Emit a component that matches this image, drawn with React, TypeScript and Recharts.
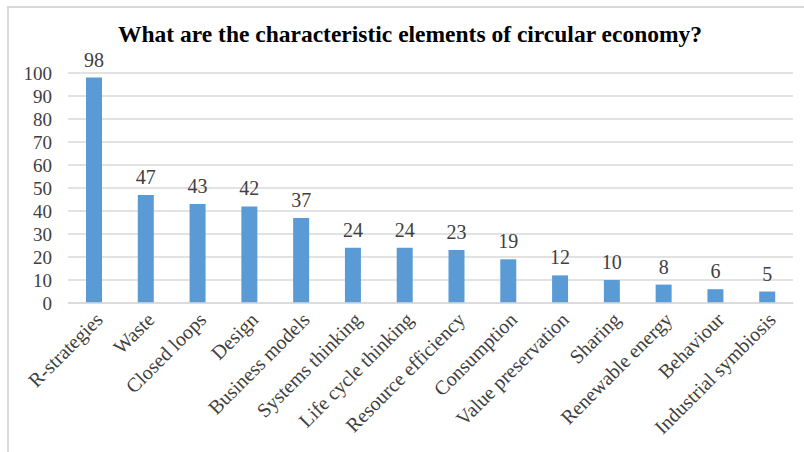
import { BarChart, Bar, XAxis, YAxis, CartesianGrid, LabelList } from "recharts"

const categories = [
  "R-strategies",
  "Waste",
  "Closed loops",
  "Design",
  "Business models",
  "Systems thinking",
  "Life cycle thinking",
  "Resource efficiency",
  "Consumption",
  "Value preservation",
  "Sharing",
  "Renewable energy",
  "Behaviour",
  "Industrial symbiosis",
]

const counts = [98, 47, 43, 42, 37, 24, 24, 23, 19, 12, 10, 8, 6, 5]

const yTicks = [0, 10, 20, 30, 40, 50, 60, 70, 80, 90, 100]

const data = categories.map((name, i) => ({ name, value: counts[i] }))

const FONT = "'Liberation Serif', 'Times New Roman', serif"

export default function App() {
  return (
    <div style={{ position: "absolute", left: 0, top: 0, width: 804, height: 452, background: "#fff", fontFamily: FONT }}>
      {/* only the top and left edges of the frame are visible in the crop */}
      <div
        style={{
          position: "absolute",
          left: 7,
          top: 6,
          right: 0,
          bottom: 0,
          borderLeft: "2px solid #d9d9d9",
          borderTop: "2px solid #d9d9d9",
        }}
      />
      <div
        style={{
          position: "absolute",
          left: 0,
          width: 820,
          top: 21,
          textAlign: "center",
          fontSize: 23.5,
          fontWeight: "bold",
          color: "#000",
        }}
      >
        What are the characteristic elements of circular economy?
      </div>
      <BarChart
        width={804}
        height={452}
        data={data}
        margin={{ top: 73, right: 11, left: 0, bottom: 4 }}
        barCategoryGap={18}
        style={{ position: "absolute", left: 0, top: 0 }}
      >
        <CartesianGrid vertical={false} stroke="#d9d9d9" strokeWidth={1.5} />
        <XAxis
          dataKey="name"
          interval={0}
          height={145}
          axisLine={{ stroke: "#d9d9d9", strokeWidth: 1.5 }}
          tickLine={false}
          tickSize={6}
          angle={-45}
          textAnchor="end"
          tick={{ fill: "#404040", fontSize: 20, fontFamily: FONT }}
        />
        <YAxis
          width={68}
          domain={[0, 100]}
          ticks={yTicks}
          interval={0}
          axisLine={false}
          tickLine={false}
          tickSize={0}
          tickMargin={16}
          tick={{ fill: "#404040", fontSize: 19, fontFamily: FONT }}
        />
        <Bar dataKey="value" fill="#5b9bd5" barSize={16} isAnimationActive={false}>
          <LabelList dataKey="value" position="top" offset={11} fill="#404040" fontSize={20} fontFamily={FONT} />
        </Bar>
      </BarChart>
    </div>
  )
}
